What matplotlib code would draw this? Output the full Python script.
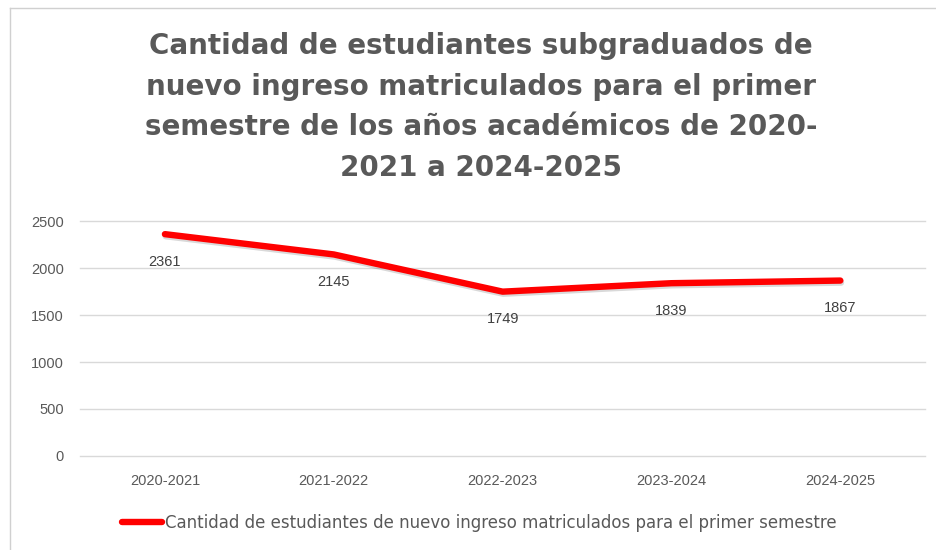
import matplotlib

matplotlib.use("Agg")
import matplotlib.pyplot as plt
import matplotlib.patheffects as pe
from matplotlib.lines import Line2D

years = ["2020-2021", "2021-2022", "2022-2023", "2023-2024", "2024-2025"]
students = [2361, 2145, 1749, 1839, 1867]
yticks = [0, 500, 1000, 1500, 2000, 2500]

TITLE = ("Cantidad de estudiantes subgraduados de\nnuevo ingreso matriculados para el primer\n"
         "semestre de los años académicos de 2020-\n2021 a 2024-2025")
LEGEND = "Cantidad de estudiantes de nuevo ingreso matriculados para el primer semestre"
GREY = "#595959"
RED = "#ff0000"

fig = plt.figure(figsize=(9.36, 5.5), dpi=100)
ax = fig.add_axes([0.086, 0.171, 0.902, 0.427])

x = list(range(len(years)))
ax.plot(x, students, color=RED, lw=4.6, solid_capstyle="round", solid_joinstyle="round",
        path_effects=[pe.SimpleLineShadow(offset=(0.5, -1.5), alpha=0.15), pe.Normal()])

for xi, v in zip(x, students):
    ax.annotate(str(v), (xi, v), xytext=(0, -20), textcoords="offset points",
                ha="center", va="center", fontsize=10.5, color="#404040",
                family="Liberation Sans")

ax.set_xlim(-0.5, len(years) - 0.5)
ax.set_ylim(0, 2500)
ax.set_xticks(x)
ax.set_xticklabels(years)
ax.set_yticks(yticks)
ax.tick_params(axis="x", length=0, labelsize=10.5, labelcolor=GREY, pad=13)
ax.tick_params(axis="y", length=0, labelsize=10.5, labelcolor=GREY, pad=12)
for lbl in ax.get_xticklabels() + ax.get_yticklabels():
    lbl.set_family("Liberation Sans")
ax.grid(axis="y", color="#d9d9d9", lw=1)
for gl in ax.get_ygridlines():
    gl.set_clip_on(False)
ax.set_axisbelow(True)
for s in ax.spines.values():
    s.set_visible(False)

fig.text(0.514, 0.942, TITLE, ha="center", va="top", fontsize=20, fontweight="bold",
         color=GREY, family=["Liberation Sans Narrow", "DejaVu Sans"], linespacing=1.58)

handle = Line2D([], [], color=RED, lw=4.6, solid_capstyle="round")
fig.legend([handle], [LEGEND], loc="center", bbox_to_anchor=(0.512, 0.05), frameon=False,
           handlelength=2.4, handletextpad=0.2,
           prop={"family": ["Liberation Sans Narrow", "DejaVu Sans"], "size": 12})
for lbl in fig.legends[0].get_texts():
    lbl.set_color(GREY)

# border of the chart box
fig.add_artist(Line2D([0.011, 0.011], [0, 0.985], transform=fig.transFigure, color="#d0d0d0", lw=1))
fig.add_artist(Line2D([0.011, 1], [0.985, 0.985], transform=fig.transFigure, color="#d0d0d0", lw=1))

fig.savefig("out.png", dpi=100)
